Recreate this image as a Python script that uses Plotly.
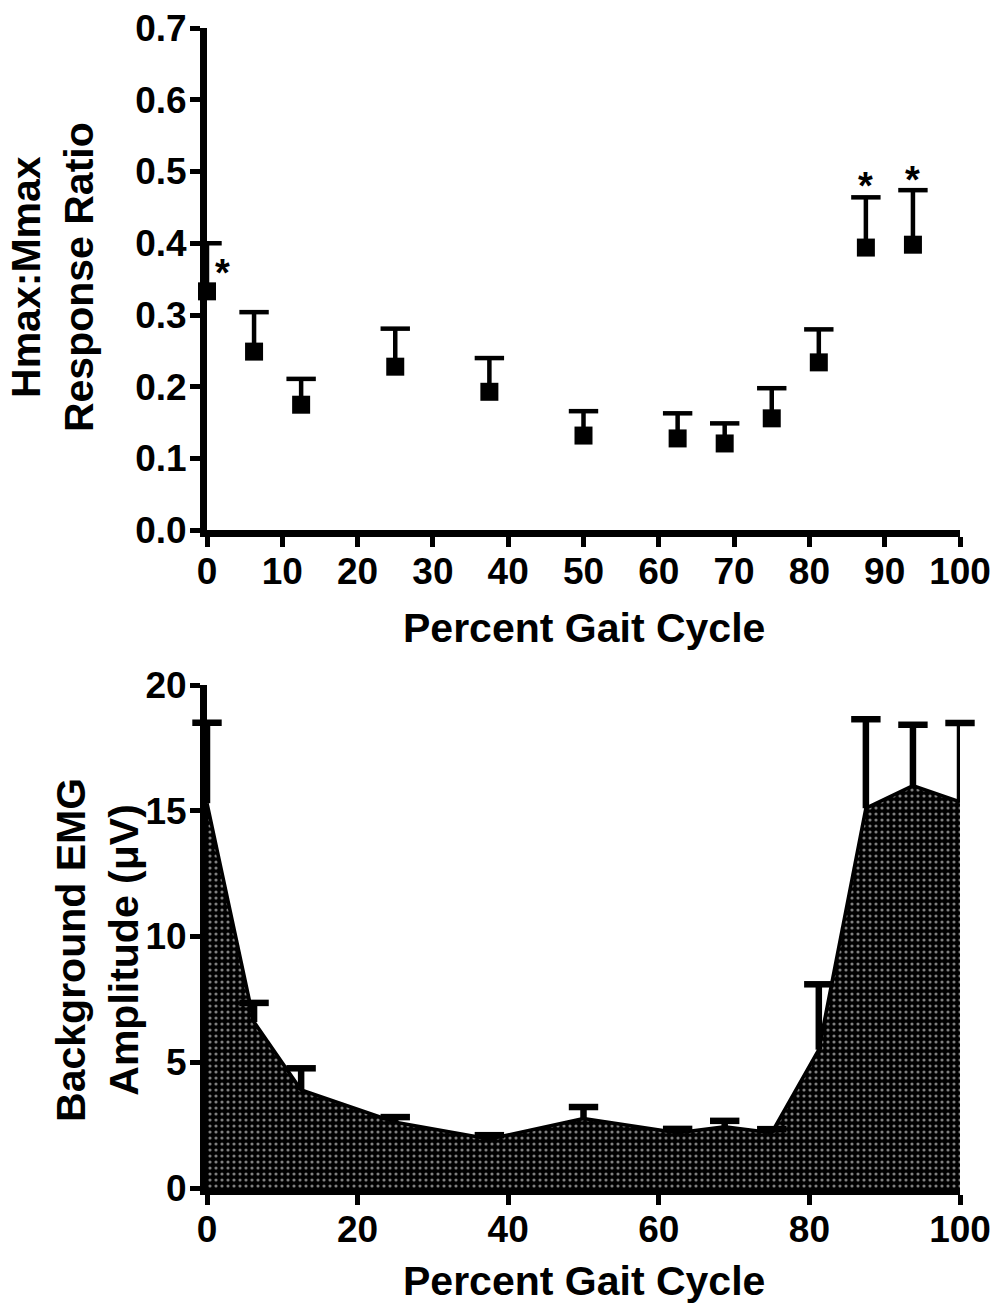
import plotly.graph_objects as go

# ---- data ----
gait_top = [0, 6.25, 12.5, 25, 37.5, 50, 62.5, 68.75, 75, 81.25, 87.5, 93.75]
ratio_mean = [0.333, 0.249, 0.175, 0.228, 0.193, 0.132, 0.128, 0.121, 0.156, 0.234, 0.394, 0.398]
ratio_sem = [0.067, 0.055, 0.036, 0.053, 0.047, 0.034, 0.035, 0.028, 0.042, 0.046, 0.070, 0.076]

gait_bot = [0, 6.25, 12.5, 25, 37.5, 50, 62.5, 68.75, 75, 81.25, 87.5, 93.75, 100]
emg_mean = [15.3, 6.6, 3.9, 2.62, 1.95, 2.76, 2.2, 2.43, 2.2, 5.5, 15.1, 16.0, 15.35]
emg_sem = [3.2, 0.76, 0.86, 0.2, 0.15, 0.46, 0.15, 0.24, 0.14, 2.6, 3.54, 2.42, 3.14]

star_x = [2.0, 87.5, 93.75]
star_y = [0.363, 0.484, 0.492]

top_xticks = [0, 10, 20, 30, 40, 50, 60, 70, 80, 90, 100]
top_yticks = [0.0, 0.1, 0.2, 0.3, 0.4, 0.5, 0.6, 0.7]
bot_xticks = [0, 20, 40, 60, 80, 100]
bot_yticks = [0, 5, 10, 15, 20]

FONT = "Liberation Sans, Arial, sans-serif"
TICKF = dict(family=FONT, size=37, color="black", weight="bold")
TITLEF = dict(family=FONT, size=41, color="black", weight="bold")


def upper_bars(x, mean, sem, xa, ya, thick):
    tops = [m + s for m, s in zip(mean, sem)]
    return go.Scatter(
        x=x, y=tops, mode="markers", xaxis=xa, yaxis=ya,
        marker=dict(symbol="line-ew", size=21, color="black",
                    line=dict(color="black", width=thick)),
        error_y=dict(type="data", array=[0] * len(sem), arrayminus=sem,
                     symmetric=False, color="black", thickness=thick, width=0),
        cliponaxis=False, showlegend=False, hoverinfo="skip",
    )


fig = go.Figure()

# top: error bars then squares
fig.add_trace(upper_bars(gait_top, ratio_mean, ratio_sem, "x", "y", 4.5))
fig.add_trace(go.Scatter(
    x=gait_top, y=ratio_mean, mode="markers", xaxis="x", yaxis="y",
    marker=dict(symbol="square", size=18, color="black"),
    cliponaxis=False, showlegend=False,
))

# bottom: patterned area + error bars
fig.add_trace(go.Scatter(
    x=gait_bot, y=emg_mean, mode="lines", xaxis="x2", yaxis="y2",
    line=dict(color="black", width=3.5),
    fill="tozeroy",
    fillpattern=dict(shape=".", bgcolor="black", fgcolor="white", size=6, solidity=0.22),
    showlegend=False,
))
fig.add_trace(upper_bars(gait_bot, emg_mean, emg_sem, "x2", "y2", 6.5))

axis_common = dict(
    showline=True, linecolor="black", linewidth=7, ticks="outside",
    ticklen=10, tickwidth=5, tickcolor="black", showgrid=False, zeroline=False,
    tickfont=TICKF, automargin=False,
)

fig.update_layout(
    width=996, height=1311, autosize=False,
    margin=dict(l=207, r=36, t=28, b=123, autoexpand=False),
    paper_bgcolor="white", plot_bgcolor="white",
    xaxis=dict(domain=[0, 1], anchor="y", range=[0, 100], tickvals=top_xticks,
               ticktext=[str(v) for v in top_xticks], ticklabelstandoff=-8, **axis_common),
    yaxis=dict(domain=[0.567, 1.0], anchor="x", range=[0, 0.7], tickvals=top_yticks,
               ticktext=[f"{v:.1f}" for v in top_yticks], ticklabelstandoff=-4, **axis_common),
    xaxis2=dict(domain=[0, 1], anchor="y2", range=[0, 100], tickvals=bot_xticks,
                ticktext=[str(v) for v in bot_xticks], ticklabelstandoff=-7, **axis_common),
    yaxis2=dict(domain=[0, 0.4336], anchor="x2", range=[0, 20], tickvals=bot_yticks,
                ticktext=[str(v) for v in bot_yticks], ticklabelstandoff=-4, **axis_common),
)

annotations = []
for sx, sy in zip(star_x, star_y):
    annotations.append(dict(x=sx, y=sy, xref="x", yref="y", text="*", showarrow=False,
                            font=dict(family=FONT, size=38, color="black", weight="bold"),
                            yshift=-3))
annotations += [
    dict(x=0.5, y=0.4828, xref="paper", yref="paper", text="Percent Gait Cycle",
         showarrow=False, font=TITLEF, xanchor="center", yanchor="middle"),
    dict(x=0.5, y=-0.0802, xref="paper", yref="paper", text="Percent Gait Cycle",
         showarrow=False, font=TITLEF, xanchor="center", yanchor="middle"),
    dict(x=-0.2058, y=0.7853, xref="paper", yref="paper", text="Hmax:Mmax<br>Response Ratio",
         showarrow=False, font=TITLEF, textangle=-90, xanchor="center", yanchor="middle"),
    dict(x=-0.1448, y=0.2052, xref="paper", yref="paper", text="Background EMG<br>Amplitude (μV)",
         showarrow=False, font=TITLEF, textangle=-90, xanchor="center", yanchor="middle"),
]
fig.update_layout(annotations=annotations)

fig.write_html("out.html", config={"displayModeBar": False},
               post_script="document.body.style.margin='0';")
